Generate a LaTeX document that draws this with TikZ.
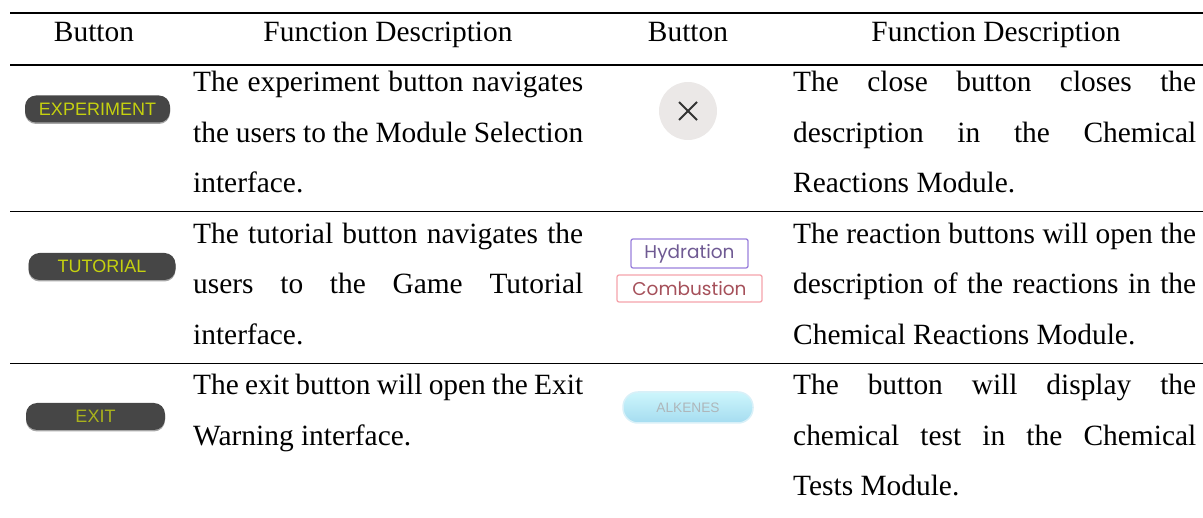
\documentclass[tikz,border=0pt]{standalone}
\usepackage{fontspec}
\setmainfont{Liberation Serif}
\newfontfamily\btnfont{Liberation Sans}
\newfontfamily\geofont{Poppins}
\usetikzlibrary{shadows}
\definecolor{btngray}{HTML}{464646}
\definecolor{btnyellow}{HTML}{C5D10F}
\definecolor{exityellow}{HTML}{A9B21C}
\definecolor{closefill}{HTML}{EBE8E7}
\definecolor{closex}{HTML}{333333}
\definecolor{hydrborder}{HTML}{9A80DC}
\definecolor{hydrtext}{HTML}{6F5A93}
\definecolor{combborder}{HTML}{F5A3AB}
\definecolor{combtext}{HTML}{A5505A}
\definecolor{alktop}{HTML}{CDF6FC}
\definecolor{alkbot}{HTML}{A5DCF0}
\definecolor{alkborder}{HTML}{D8F0F8}
\definecolor{alktext}{HTML}{AEB6BA}
\newcommand{\jlineA}[1]{\makebox[390pt][s]{#1}}
\newcommand{\jlineB}[1]{\makebox[403pt][s]{#1}}
\begin{document}
\begin{tikzpicture}[x=1pt,y=-1pt,
  desc/.style={anchor=base west, inner sep=0pt, font=\fontsize{29.4}{35}\selectfont},
  head/.style={anchor=base, inner sep=0pt, font=\fontsize{29.4}{35}\selectfont},
  darkbtn/.style={rounded corners=11pt, fill=btngray, inner sep=0pt,
    minimum height=27pt, font=\btnfont\fontsize{18}{18}\selectfont, text=btnyellow,
    drop shadow={shadow xshift=0pt, shadow yshift=-1.5pt, fill=black, opacity=0.35}},
  tagbtn/.style={line width=1.3pt, rounded corners=2pt, inner sep=0pt,
    font=\geofont\fontsize{18.5}{18.5}\selectfont},
  rule/.style={draw=black}
]
\useasboundingbox (0,0) rectangle (1203,518);
% rules
\draw[rule, line width=2pt] (10,13.5) -- (1203,13.5);
\draw[rule, line width=1.5pt] (10,65) -- (1203,65);
\draw[rule, line width=0.8pt] (10,211) -- (1203,211);
\draw[rule, line width=0.8pt] (10,363) -- (1203,363);
% header
\node[head] (h1) at (94,42) {Button};
\node[head] (h2) at (388,42) {Function Description};
\node[head] (h3) at (688,42) {Button};
\node[head] (h4) at (996,42) {Function Description};
% column 1 buttons
\node[darkbtn, minimum width=145pt] (b1) at (97.5,109) {EXPERIMENT};
\node[darkbtn, minimum width=147pt] (b2) at (102,266.5) {TUTORIAL};
\node[darkbtn, minimum width=139pt, text=exityellow] (b3) at (95.5,416.5) {EXIT};
% column 2 descriptions
\node[desc] (d1a) at (193,92) {\jlineA{The experiment button navigates}};
\node[desc] (d1b) at (193,142.5) {\jlineA{the users to the Module Selection}};
\node[desc] (d1c) at (193,193) {interface.};
\node[desc] (d2a) at (193,243.5) {\jlineA{The tutorial button navigates the}};
\node[desc] (d2b) at (193,294) {\jlineA{users to the Game Tutorial}};
\node[desc] (d2c) at (193,344.5) {interface.};
\node[desc] (d3a) at (193,395) {\jlineA{The exit button will open the Exit}};
\node[desc] (d3b) at (193,445.5) {Warning interface.};
% column 3 buttons
\node[circle, fill=closefill, minimum size=58pt, inner sep=0pt] (c1) at (688,111) {};
\draw[closex, line width=1.8pt] ([shift={(-9,-9)}]c1.center) -- ([shift={(9,9)}]c1.center);
\draw[closex, line width=1.8pt] ([shift={(-9,9)}]c1.center) -- ([shift={(9,-9)}]c1.center);
\node[tagbtn, draw=hydrborder, text=hydrtext, minimum width=117pt, minimum height=29pt] (c2a) at (689.5,253.5) {Hydration};
\node[tagbtn, draw=combborder, text=combtext, minimum width=145pt, minimum height=27pt] (c2b) at (689.5,288.5) {Combustion};
\node[rounded corners=15pt, top color=alktop, bottom color=alkbot, draw=alkborder, line width=1.5pt,
  minimum width=130pt, minimum height=31pt, inner sep=0pt, text=alktext,
  font=\btnfont\fontsize{13.7}{13.7}\selectfont] (c3) at (688,407.5) {ALKENES};
% column 4 descriptions
\node[desc] (e1a) at (793,92) {\jlineB{The close button closes the}};
\node[desc] (e1b) at (793,142.5) {\jlineB{description in the Chemical}};
\node[desc] (e1c) at (793,193) {Reactions Module.};
\node[desc] (e2a) at (793,243.5) {\jlineB{The reaction buttons will open the}};
\node[desc] (e2b) at (793,294) {\jlineB{description of the reactions in the}};
\node[desc] (e2c) at (793,344.5) {Chemical Reactions Module.};
\node[desc] (e3a) at (793,395) {\jlineB{The button will display the}};
\node[desc] (e3b) at (793,445.5) {\jlineB{chemical test in the Chemical}};
\node[desc] (e3c) at (793,496) {Tests Module.};
\end{tikzpicture}
\end{document}
